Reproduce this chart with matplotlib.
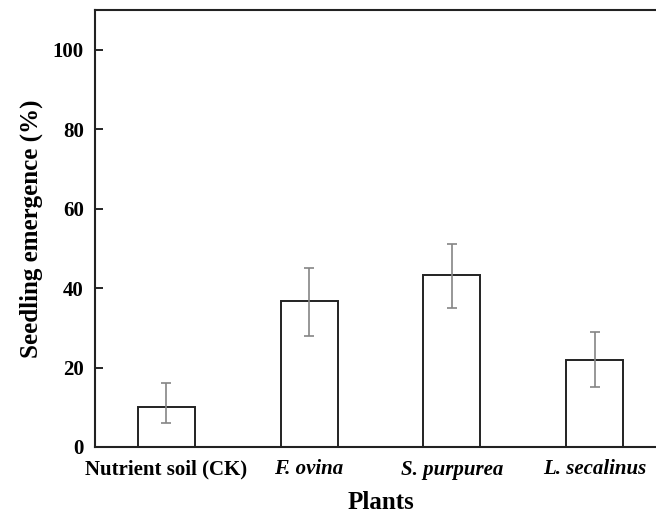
import matplotlib
matplotlib.use("Agg")
import matplotlib.pyplot as plt
import numpy as np

plants = ["Nutrient soil (CK)", "F. ovina", "S. purpurea", "L. secalinus"]
emergence = [10.0, 36.7, 43.3, 22.0]
err_low = [4.0, 8.7, 8.3, 7.0]
err_high = [6.0, 8.3, 7.7, 7.0]

plt.rcParams["font.family"] = ["Liberation Serif", "DejaVu Serif"]
plt.rcParams["font.weight"] = "bold"

fig = plt.figure(figsize=(6.56, 5.17), dpi=100)
# axes run past the right edge of the figure
ax = fig.add_axes([95 / 656, (517 - 447) / 517, (666 - 95) / 656, (447 - 10) / 517])

x = np.arange(len(plants))
ax.bar(x, emergence, width=0.4, color="white", edgecolor="#222222", linewidth=1.4)
ax.errorbar(x, emergence, yerr=[err_low, err_high], fmt="none",
            ecolor="#858585", elinewidth=1.2, capsize=3.3, capthick=1.2)

ax.set_xlim(-0.5, 3.5)
ax.set_ylim(0, 110)
ax.set_yticks([0, 20, 40, 60, 80, 100])
ax.set_xticks(x)
ax.set_xticklabels(plants)
for lab in ax.get_xticklabels()[1:]:
    lab.set_style("italic")

ax.tick_params(axis="y", direction="in", length=6, width=1.2, labelsize=15, pad=8)
ax.tick_params(axis="x", length=0, labelsize=15, pad=9)
for s in ax.spines.values():
    s.set_linewidth(1.5)
    s.set_color("#222222")

ax.set_xlabel("Plants", fontsize=18, fontweight="bold", labelpad=8)
ax.set_ylabel("Seedling emergence (%)", fontsize=18, fontweight="bold", labelpad=7)

fig.savefig("out.png", dpi=100)
